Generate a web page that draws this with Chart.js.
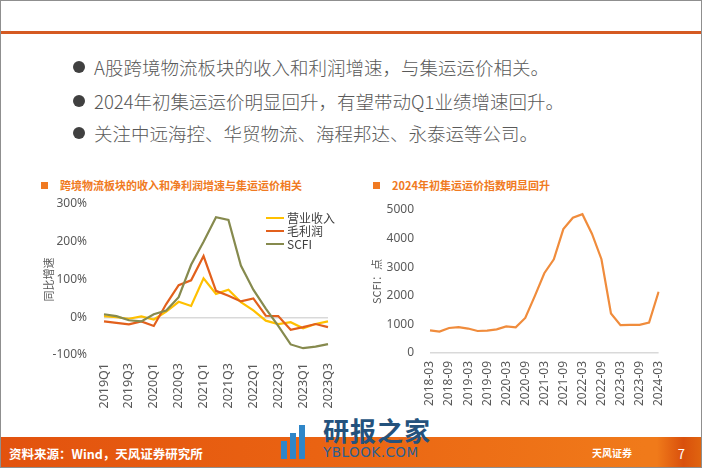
<!DOCTYPE html>
<html>
<head>
<meta charset="utf-8">
<script src="https://cdn.jsdelivr.net/npm/chart.js@4.4.1/dist/chart.umd.min.js"></script>
<style>
  html, body { margin: 0; padding: 0; background: #fff; }
  #page {
    position: relative; width: 702px; height: 468px; overflow: hidden;
    box-sizing: border-box; border: 1px solid #8f8f8f; background: #fff;
    font-family: "Noto Sans CJK SC", "Noto Sans", sans-serif;
  }
  .topline { position: absolute; left: 0; right: 0; top: 30px; height: 3px; background: #d55a22; }
  .bullet { position: absolute; left: 72px; font-size: 18.5px; color: #595959; white-space: nowrap; font-weight: 300; }
  .bullet b { display: inline-block; width: 12px; height: 12px; border-radius: 50%; background: #404040; margin-right: 9px; vertical-align: 2px; }
  .ctitle { position: absolute; top: 176px; font-size: 11px; font-weight: bold; color: #f07a22; white-space: nowrap; }
  .ctitle i { display: inline-block; width: 7px; height: 7px; background: #f07a22; margin-right: 12px; vertical-align: 1px; }
  canvas { position: absolute; }
  .legend { position: absolute; left: 265px; top: 210px; font-size: 12px; color: #404040; line-height: 13px; }
  .legend div { white-space: nowrap; }
  .legend span { display: inline-block; width: 18px; height: 2px; margin-right: 3px; vertical-align: 4px; }
  .footer { position: absolute; left: 0; right: 0; top: 436px; height: 31px;
    background: linear-gradient(90deg, #e2520e 0%, #ea6312 45%, #f07a1a 92%); }
  .footer .src { position: absolute; left: 8px; top: 7px; font-size: 12.5px; font-weight: bold; color: #fff; }
  .footer .pg { position: absolute; right: 0; top: 0; width: 44px; height: 31px;
    background: linear-gradient(90deg, #f07a1a, #d9500c 60%, #e0640f); color: #fff; font-size: 13px; text-align: right; }
  .footer .pg span { position: absolute; right: 16px; top: 7px; }
  .footer .logo { position: absolute; left: 591px; top: 8px; color: #fff; font-size: 10px; font-weight: bold; }
  .wm1 { position: absolute; left: 322px; top: 410px; font-size: 26px; font-weight: bold; color: #24527d; letter-spacing: 1px; }
  .wm2 { position: absolute; left: 322px; top: 443px; font-size: 13.5px; color: #2a5f92; font-family: "DejaVu Sans", sans-serif; letter-spacing: 0.5px; }
  .wmbar { position: absolute; background: #2f86c8; width: 6px; }
</style>
</head>
<body>
<div id="page">
  <div class="topline"></div>
  <div class="bullet" style="top:53px"><b></b>A股跨境物流板块的收入和利润增速，与集运运价相关。</div>
  <div class="bullet" style="top:87px"><b></b>2024年初集运运价明显回升，有望带动Q1业绩增速回升。</div>
  <div class="bullet" style="top:119px"><b></b>关注中远海控、华贸物流、海程邦达、永泰运等公司。</div>

  <div class="ctitle" style="left:40px"><i></i>跨境物流板块的收入和净利润增速与集运运价相关</div>
  <div class="ctitle" style="left:372px"><i></i>2024年初集运运价指数明显回升</div>

  <canvas id="left" width="330" height="215" style="left:20px;top:195px;width:330px;height:215px"></canvas>
  <canvas id="right" width="320" height="215" style="left:360px;top:195px;width:320px;height:215px"></canvas>

  <div class="legend">
    <div><span style="background:#ffc000"></span>营业收入</div>
    <div><span style="background:#e2601c"></span>毛利润</div>
    <div><span style="background:#868a4e"></span>SCFI</div>
  </div>

  <div class="footer">
    <div class="src">资料来源：Wind，天风证券研究所</div>
    <div class="logo">天风证券</div>
    <div class="pg"><span>7</span></div>
  </div>
  <div class="wmbar" style="left:280px;top:440px;height:18px"></div>
  <div class="wmbar" style="left:289px;top:432px;height:26px"></div>
  <div class="wmbar" style="left:298px;top:424px;height:34px"></div>
  <div class="wm1">研报之家</div>
  <div class="wm2">YBLOOK.COM</div>
</div>

<script>
// ── Left chart: quarterly YoY growth ──────────────────────────
const quarters = ['2019Q1','2019Q2','2019Q3','2019Q4','2020Q1','2020Q2','2020Q3','2020Q4',
  '2021Q1','2021Q2','2021Q3','2021Q4','2022Q1','2022Q2','2022Q3','2022Q4','2023Q1','2023Q2','2023Q3'];
const revenue = [3, 0, -4, 2, -6, 15, 41, 30, 103, 62, 73, 40, 18, -9, -18, -13, -29, -18, -11];
const grossProfit = [-11, -15, -19, -11, -23, 35, 85, 98, 162, 70, 57, 42, 50, 4, 3, -33, -26, -18, -26];
const scfiYoY = [8, 3, -8, -11, 8, 18, 53, 139, 200, 265, 258, 137, 73, 23, -23, -72, -82, -78, -71];
const leftTicks = [-100, 0, 100, 200, 300];

// ── Right chart: SCFI index, quarterly ───────────────────────
const months = ['2018-03','2018-06','2018-09','2018-12','2019-03','2019-06','2019-09','2019-12',
  '2020-03','2020-06','2020-09','2020-12','2021-03','2021-06','2021-09','2021-12','2022-03','2022-06',
  '2022-09','2022-12','2023-03','2023-06','2023-09','2023-12','2024-03'];
const scfi = [790, 750, 875, 905, 855, 770, 780, 825, 930, 895, 1225, 1990, 2790, 3275, 4330, 4730,
  4855, 4170, 3280, 1380, 975, 980, 985, 1065, 2140];

const tickColor = '#595959';
const zeroGrid = c => (c.tick && c.tick.value === 0) ? '#d9d9d9' : 'rgba(0,0,0,0)';

function baseScales(yWidth, xHeight, yTitle, titlePad, yOpts, tickFont) {
  return {
    x: {
      offset: false,
      grid: { display: false, drawTicks: false },
      border: { display: false },
      afterFit(s) { s.height = xHeight; },
      ticks: {
        color: tickColor, font: { size: tickFont, family: "'Noto Sans', sans-serif" },
        autoSkip: false, minRotation: 90, maxRotation: 90, padding: 8,
        callback(v, i) { return i % 2 === 0 ? this.getLabelForValue(v) : ''; }
      }
    },
    y: Object.assign({
      grid: { color: zeroGrid, lineWidth: 1.5, drawTicks: false },
      border: { display: false },
      // keep tick padding from pushing the plot top down
      afterFit(s) { s.width = yWidth; s.paddingTop = 0; s.paddingBottom = 0; },
      title: { display: true, text: yTitle, color: tickColor, padding: { top: titlePad },
        font: { size: 11, family: "'Noto Sans CJK SC', sans-serif" } },
    }, yOpts)
  };
}

new Chart(document.getElementById('left'), {
  type: 'line',
  data: {
    labels: quarters,
    datasets: [
      { label: '营业收入', data: revenue, borderColor: '#ffc000', order: 2 },
      { label: '毛利润', data: grossProfit, borderColor: '#e2601c', order: 1 },
      { label: 'SCFI', data: scfiYoY, borderColor: '#868a4e', order: 0 },
    ].map(d => Object.assign(d, { borderWidth: 2.2, pointRadius: 0, tension: 0, fill: false }))
  },
  options: {
    responsive: false, animation: false,
    layout: { padding: { top: 8, right: 15, left: 0, bottom: 0 } },
    plugins: { legend: { display: false }, tooltip: { enabled: false } },
    scales: baseScales(83, 56, '同比增速', 21, {
      min: -100, max: 300,
      afterBuildTicks(s) { s.ticks = leftTicks.map(v => ({ value: v })); },
      ticks: { color: tickColor, padding: 17, font: { size: 12, family: "'Noto Sans', sans-serif" },
        callback: v => v + '%' }
    }, 12.5)
  }
});

new Chart(document.getElementById('right'), {
  type: 'line',
  data: {
    labels: months,
    datasets: [{ label: 'SCFI', data: scfi, borderColor: '#f08c3c', borderWidth: 2.2,
      pointRadius: 0, tension: 0, fill: false }]
  },
  options: {
    responsive: false, animation: false,
    layout: { padding: { top: 14, right: 16, left: 0, bottom: 0 } },
    plugins: { legend: { display: false }, tooltip: { enabled: false } },
    scales: baseScales(69, 58, 'SCFI：点', 9, {
      min: 0, max: 5000,
      ticks: { color: tickColor, padding: 16, stepSize: 1000, font: { size: 12, family: "'Noto Sans', sans-serif" },
        callback: v => String(v) }
    }, 12)
  }
});
</script>
</body>
</html>
